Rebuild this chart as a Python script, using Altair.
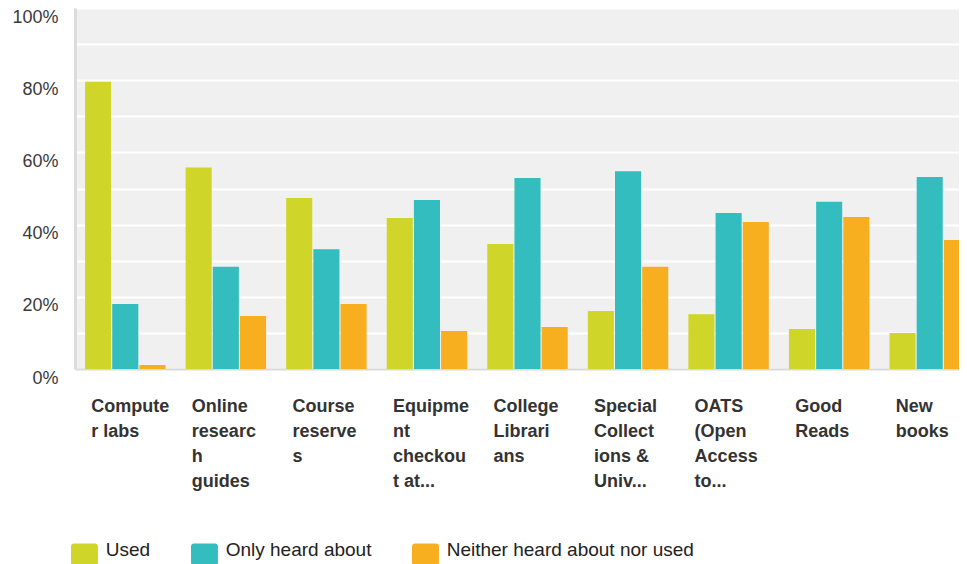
import altair as alt
import pandas as pd

# Category labels exactly as wrapped in the reference ("|" = line break)
categories = [
    "Compute|r labs",
    "Online|researc|h|guides",
    "Course|reserve|s",
    "Equipme|nt|checkou|t at...",
    "College|Librari|ans",
    "Special|Collect|ions &|Univ...",
    "OATS|(Open|Access|to...",
    "Good|Reads",
    "New|books",
]
series = ["Used", "Only heard about", "Neither heard about nor used"]

# percentages
used = [79.6, 55.8, 47.4, 41.8, 34.6, 16.1, 15.2, 11.1, 10.0]
only_heard = [18.0, 28.3, 33.2, 46.8, 52.9, 54.8, 43.2, 46.3, 53.2]
neither = [1.1, 14.7, 18.0, 10.5, 11.6, 28.3, 40.7, 42.1, 35.7]

colors = ["#CFD529", "#33BDBF", "#F7AF20"]
y_ticks = [0, 0.1, 0.2, 0.3, 0.4, 0.5, 0.6, 0.7, 0.8, 0.9, 1.0]

rows = []
for s, vals in zip(series, [used, only_heard, neither]):
    for c, v in zip(categories, vals):
        rows.append({"category": c, "series": s, "value": v / 100.0})
df = pd.DataFrame(rows)

# rounded rectangle legend swatch (27 x 22 px at size 484), shifted slightly down
sym = ("M-0.73,-0.62 L1.18,-0.62 A0.27,0.27 0 0 1 1.45,-0.35 L1.45,1.11 "
       "A0.27,0.27 0 0 1 1.18,1.38 L-0.73,1.38 A0.27,0.27 0 0 1 -1,1.11 "
       "L-1,-0.35 A0.27,0.27 0 0 1 -0.73,-0.62 Z")

chart = alt.Chart(df).mark_bar(clip=True).encode(
    x=alt.X(
        "category:N",
        sort=categories,
        scale=alt.Scale(range=[0, 905], paddingInner=0.2, paddingOuter=0.1),
        axis=alt.Axis(
            title=None,
            labelExpr="split(datum.label, '|')",
            labelAlign="left",
            labelAngle=0,
            labelOffset=-34,
            labelBaseline="alphabetic",
            labelPadding=42,
            labelFont="Liberation Sans",
            labelFontWeight="bold",
            labelFontSize=18,
            labelColor="#333333",
            labelLineHeight=25,
            labelLimit=0,
            labelOverlap=False,
            labelFlush=False,
            ticks=False,
            domainColor="#d9d9d9",
            domainWidth=2,
            grid=False,
        ),
    ),
    xOffset=alt.XOffset(
        "series:N", sort=series, scale=alt.Scale(paddingInner=0.04, paddingOuter=0)
    ),
    y=alt.Y(
        "value:Q",
        scale=alt.Scale(domain=[0, 1], nice=False),
        axis=alt.Axis(
            title=None,
            values=y_ticks,
            format=".0%",
            labelExpr="round(datum.value*100) % 20 == 0 ? datum.label : ''",
            ticks=False,
            labelPadding=17,
            labelOffset=9,
            labelFont="Liberation Sans",
            labelFontSize=18,
            labelColor="#3a3a3a",
            domainColor="#dcdcdc",
            domainWidth=3,
            grid=True,
            gridColor="#ffffff",
            gridWidth=2,
            gridOpacity=1,
        ),
    ),
    color=alt.Color(
        "series:N",
        sort=series,
        scale=alt.Scale(domain=series, range=colors),
        legend=alt.Legend(
            title=None,
            orient="none",
            legendX=-4,
            legendY=531,
            direction="horizontal",
            symbolType=sym,
            symbolSize=484,
            symbolStrokeWidth=0,
            symbolOpacity=1,
            labelFont="Liberation Sans",
            labelFontSize=19,
            labelColor="#222222",
            labelOffset=12.7,
            labelLimit=0,
            columnPadding=40,
            padding=0,
        ),
    ),
).properties(
    width=884,
    height=361,
    autosize=alt.AutoSizeParams(type="none"),
    padding={"left": 67, "top": 0, "right": 0, "bottom": 195},
).configure_view(
    fill="#f0f0f0",
    strokeWidth=0,
)

chart.save("out.html", embed_options={"renderer": "svg", "actions": False})
